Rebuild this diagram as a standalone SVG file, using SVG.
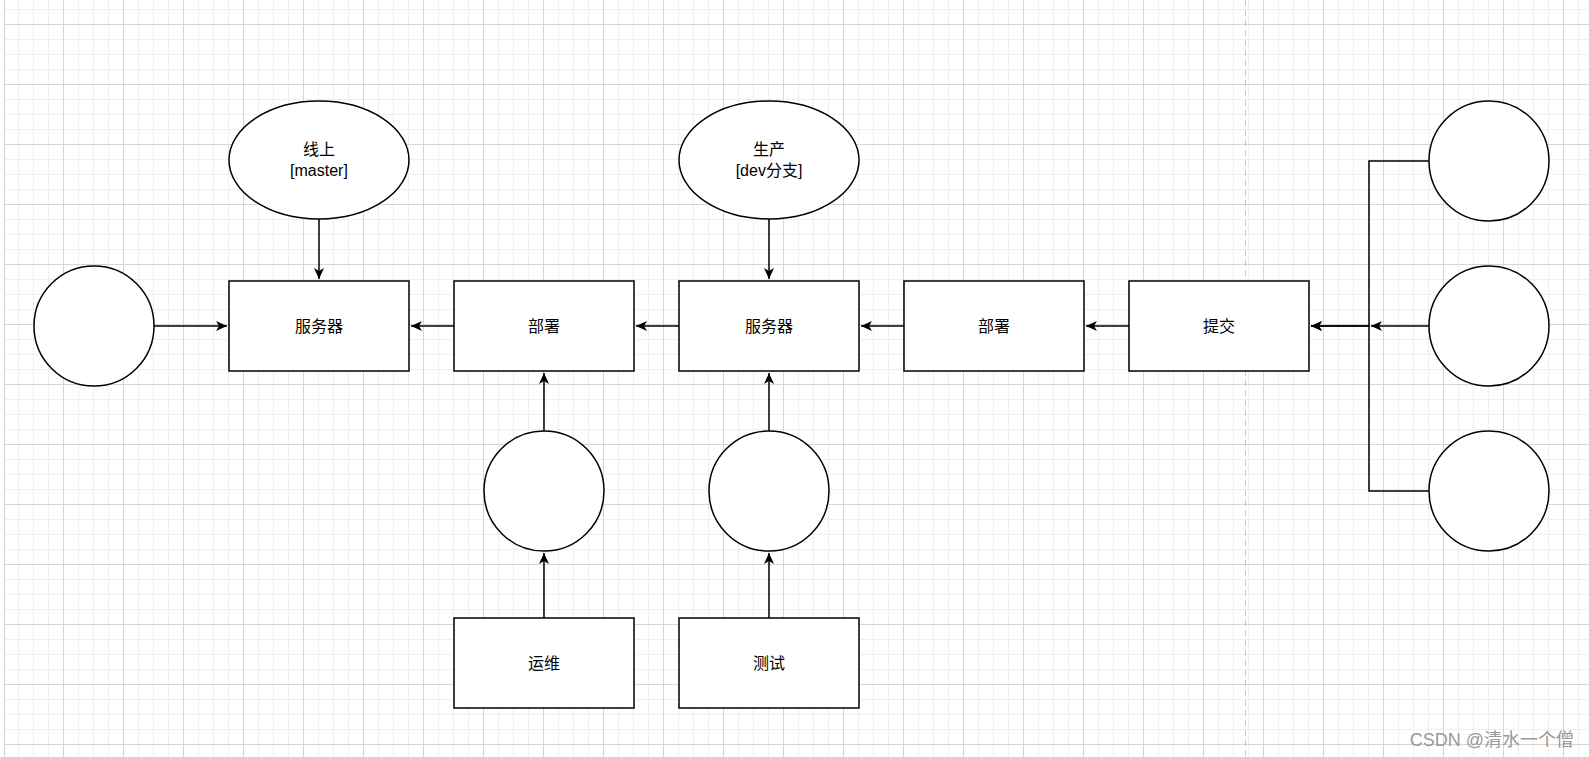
<svg xmlns="http://www.w3.org/2000/svg" width="1589" height="757" viewBox="0 0 1589 757">
<style>
.n{fill:#fff;stroke:#000;stroke-width:1.5}
.c{fill:none;stroke:#000;stroke-width:1.5}
.t{font-family:"Liberation Sans","Noto Sans CJK SC",sans-serif;font-size:16px;fill:#000;text-anchor:middle}
</style>
<defs>
<pattern id="minor" x="3" y="9" width="15" height="15" patternUnits="userSpaceOnUse"><path d="M0.5 0V15M0 0.5H15" stroke="#efefef" stroke-width="1" fill="none"/></pattern>
<pattern id="major" x="3" y="24" width="60" height="60" patternUnits="userSpaceOnUse"><path d="M0.5 0V60M0 0.5H60" stroke="#d6d6d6" stroke-width="1" fill="none"/></pattern>
<marker id="a" markerUnits="userSpaceOnUse" markerWidth="12" markerHeight="10" refX="11" refY="5" orient="auto"><path d="M0,0 L11,5 L0,10 L3,5 Z" fill="#000"/></marker>
</defs>
<rect width="1589" height="757" fill="#fff"/>
<rect x="4" y="0" width="1585" height="757" fill="url(#minor)"/>
<rect x="4" y="0" width="1585" height="757" fill="url(#major)"/>
<line x1="4.5" y1="0" x2="4.5" y2="757" stroke="#d6d6d6"/>
<line x1="1245.5" y1="0" x2="1245.5" y2="757" stroke="#c8c8c8" stroke-dasharray="6 4"/>
<g id="connectors">
<path class="c" d="M319 219V279" marker-end="url(#a)"/>
<path class="c" d="M769 219V279" marker-end="url(#a)"/>
<path class="c" d="M154 326H227" marker-end="url(#a)"/>
<path class="c" d="M454 326H411" marker-end="url(#a)"/>
<path class="c" d="M679 326H636" marker-end="url(#a)"/>
<path class="c" d="M904 326H861" marker-end="url(#a)"/>
<path class="c" d="M1129 326H1086" marker-end="url(#a)"/>
<path class="c" d="M544 431V373" marker-end="url(#a)"/>
<path class="c" d="M769 431V373" marker-end="url(#a)"/>
<path class="c" d="M544 618V553" marker-end="url(#a)"/>
<path class="c" d="M769 618V553" marker-end="url(#a)"/>
<path class="c" d="M1429 161H1369V326H1311" marker-end="url(#a)"/>
<path class="c" d="M1429 491H1369V326H1311" marker-end="url(#a)"/>
<path class="c" d="M1429 326H1371" marker-end="url(#a)"/>
</g>
<g id="online"><ellipse class="n" cx="319" cy="160" rx="90" ry="59"/><text class="t" x="319" y="155">线上</text><text class="t" x="319" y="176">[master]</text></g>
<g id="prod"><ellipse class="n" cx="769" cy="160" rx="90" ry="59"/><text class="t" x="769" y="155">生产</text><text class="t" x="769" y="176">[dev分支]</text></g>
<g id="c-left"><circle class="n" cx="94" cy="326" r="60"/></g>
<g id="server1"><rect class="n" x="229" y="281" width="180" height="90"/><text class="t" x="319" y="332">服务器</text></g>
<g id="deploy1"><rect class="n" x="454" y="281" width="180" height="90"/><text class="t" x="544" y="332">部署</text></g>
<g id="server2"><rect class="n" x="679" y="281" width="180" height="90"/><text class="t" x="769" y="332">服务器</text></g>
<g id="deploy2"><rect class="n" x="904" y="281" width="180" height="90"/><text class="t" x="994" y="332">部署</text></g>
<g id="commit"><rect class="n" x="1129" y="281" width="180" height="90"/><text class="t" x="1219" y="332">提交</text></g>
<g id="c-ops"><circle class="n" cx="544" cy="491" r="60"/></g>
<g id="c-test"><circle class="n" cx="769" cy="491" r="60"/></g>
<g id="ops"><rect class="n" x="454" y="618" width="180" height="90"/><text class="t" x="544" y="669">运维</text></g>
<g id="test"><rect class="n" x="679" y="618" width="180" height="90"/><text class="t" x="769" y="669">测试</text></g>
<g id="c-r1"><circle class="n" cx="1489" cy="161" r="60"/></g>
<g id="c-r2"><circle class="n" cx="1489" cy="326" r="60"/></g>
<g id="c-r3"><circle class="n" cx="1489" cy="491" r="60"/></g>
<text x="1574" y="746" style="font-family:'Liberation Sans','Noto Sans CJK SC',sans-serif;font-size:18px;fill:#999;text-anchor:end">CSDN @清水一个僧</text>
</svg>
